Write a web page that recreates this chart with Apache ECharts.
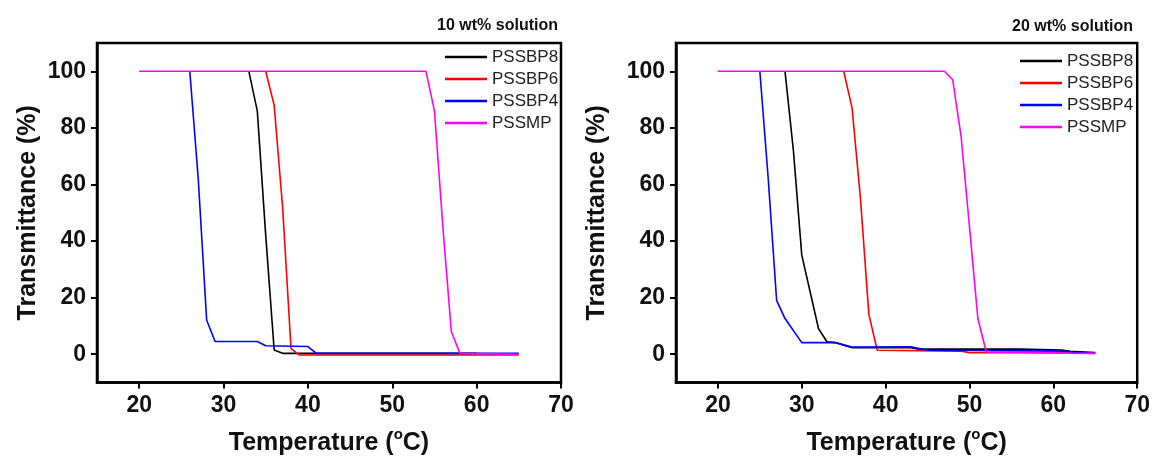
<!DOCTYPE html>
<html>
<head>
<meta charset="utf-8">
<script src="https://cdn.jsdelivr.net/npm/echarts@6/dist/echarts.min.js"></script>
<style>
  html, body { margin: 0; padding: 0; background: #fff; }
  #chart { width: 1153px; height: 461px; }
</style>
</head>
<body>
<div id="chart"></div>
<script>
// series names and colours
const names = ['PSSBP8', 'PSSBP6', 'PSSBP4', 'PSSMP']
const colors = ['#000000', '#ff0000', '#0000ff', '#ff00ff']

// 10 wt% solution (left panel): temperature (°C) / transmittance (%)
const t10BP8 = [33, 34, 35, 36, 37, 60]
const y10BP8 = [100, 86, 42, 1.5, 0.3, 0.3]
const t10BP6 = [35, 36, 37, 38, 39, 65]
const y10BP6 = [100, 88, 52, 2, -0.3, -0.3]
const t10BP4 = [26, 27, 28, 29, 34, 35, 40, 41, 65]
const y10BP4 = [100, 62, 12, 4.5, 4.5, 3, 2.7, 0.3, 0.3]
const t10MP = [20, 54, 55, 56, 57, 58, 65]
const y10MP = [100, 100, 86, 45, 8, 0.4, 0]

// 20 wt% solution (right panel)
const t20BP8 = [28, 29, 30, 31, 32, 33, 34, 36, 43, 44, 56, 61, 62, 65]
const y20BP8 = [100, 72, 35, 22, 9, 4.4, 4.1, 2.3, 2.3, 1.8, 1.8, 1.5, 1, 0.6]
const t20BP6 = [35, 36, 37, 38, 39, 49, 50, 62, 65]
const y20BP6 = [100, 87, 55, 14, 1.4, 1.1, 0.5, 0.5, 0.3]
const t20BP4 = [25, 26, 27, 28, 30, 34, 36, 43, 45, 61.5, 62.5, 65]
const y20BP4 = [100, 62, 19, 12.6, 4.1, 4.1, 2.5, 2.6, 1.4, 1.1, 0.5, 0.5]
const t20MP = [20, 47, 48, 49, 50, 51, 52, 62, 65]
const y20MP = [100, 100, 97, 77, 45, 12.6, 0.8, 0.4, 0.3]

// axis tick labels
const xTicks = [20, 30, 40, 50, 60, 70]
const yTicks = [0, 20, 40, 60, 80, 100]

const panels = [
  [[t10BP8, y10BP8], [t10BP6, y10BP6], [t10BP4, y10BP4], [t10MP, y10MP]],
  [[t20BP8, y20BP8], [t20BP6, y20BP6], [t20BP4, y20BP4], [t20MP, y20MP]],
]

const font = 'Liberation Sans, Arial, sans-serif'
const zip = (xs, ys) => xs.map((x, i) => [x, ys[i]])

const xAxisFor = (gridIndex) => ({
  type: 'value', gridIndex, min: 15, max: 70,
  name: 'Temperature ({s|o}C)', nameLocation: 'middle', nameGap: 45,
  nameTextStyle: {
    fontFamily: font, fontSize: 25, fontWeight: 'bold', color: '#111',
    rich: { s: { fontFamily: font, fontSize: 15, fontWeight: 'bold', color: '#111', padding: [0, 0, 17, 0] } },
  },
  axisLine: { show: true, onZero: false, lineStyle: { color: '#000', width: 2.5 } },
  axisTick: { show: true, inside: false, length: 6, lineStyle: { width: 2, color: '#000' }, customValues: xTicks },
  axisLabel: { fontFamily: font, fontSize: 23, fontWeight: 'bold', color: '#111', margin: 12, customValues: xTicks },
  splitLine: { show: false },
})

const yAxisFor = (gridIndex, gap) => ({
  type: 'value', gridIndex, min: -10, max: 110,
  name: 'Transmittance (%)', nameLocation: 'middle', nameGap: gap,
  nameTextStyle: { fontFamily: font, fontSize: 25, fontWeight: 'bold', color: '#111' },
  axisLine: { show: true, onZero: false, lineStyle: { color: '#000', width: 2.5 } },
  axisTick: { show: true, inside: false, length: 6, lineStyle: { width: 2, color: '#000' }, customValues: yTicks },
  axisLabel: { fontFamily: font, fontSize: 23, fontWeight: 'bold', color: '#111', margin: 11, customValues: yTicks },
  splitLine: { show: false },
})

const series = []
panels.forEach((panel, p) => {
  panel.forEach(([xs, ys], i) => {
    series.push({
      type: 'line', name: names[i], xAxisIndex: p, yAxisIndex: p,
      data: zip(xs, ys), symbol: 'none', animation: false,
      lineStyle: { color: colors[i], width: 1.6 }, itemStyle: { color: colors[i] },
    })
  })
})

const legendFor = (left, top) => ({
  orient: 'vertical', left, top, data: names,
  icon: 'rect', itemWidth: 42, itemHeight: 2.4, itemGap: 0,
  textStyle: { fontFamily: font, fontSize: 17, color: '#222', lineHeight: 22 },
  selectedMode: false,
})

const chart = echarts.init(document.getElementById('chart'), null, { renderer: 'canvas' })
chart.setOption({
  backgroundColor: '#fff',
  animation: false,
  title: [
    { text: '10 wt% solution', right: 595, top: 18, padding: 0, textStyle: { fontFamily: font, fontSize: 16, fontWeight: 'bold', color: '#111' } },
    { text: '20 wt% solution', right: 20, top: 19, padding: 0, textStyle: { fontFamily: font, fontSize: 16, fontWeight: 'bold', color: '#111' } },
  ],
  legend: [legendFor(440, 41), legendFor(1015, 45)],
  grid: [
    { left: 97, top: 43, width: 464, height: 340, show: true, borderColor: '#000', borderWidth: 2.5, containLabel: false },
    { left: 676, top: 43, width: 462, height: 340, show: true, borderColor: '#000', borderWidth: 2.5, containLabel: false },
  ],
  xAxis: [xAxisFor(0), xAxisFor(1)],
  yAxis: [yAxisFor(0, 56), yAxisFor(1, 66)],
  series,
})
</script>
</body>
</html>
